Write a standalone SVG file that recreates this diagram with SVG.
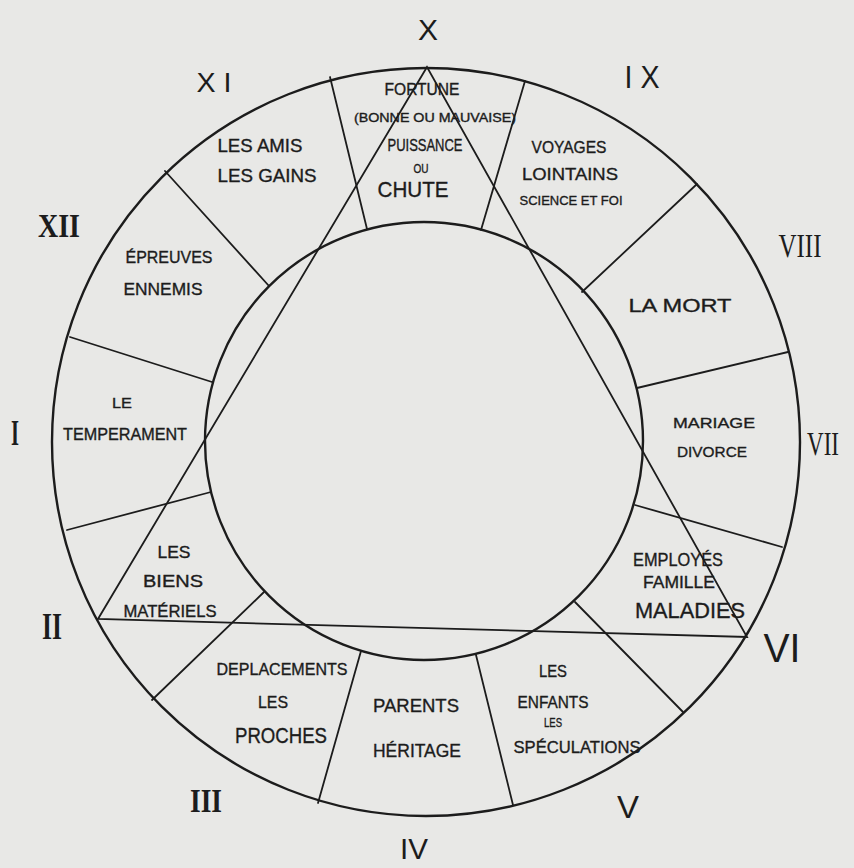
<svg xmlns="http://www.w3.org/2000/svg" width="854" height="868" viewBox="0 0 854 868">
<style>
.ln{stroke:#1c1c1c;stroke-width:1.8;fill:none;stroke-linecap:round}
.circ{stroke:#1c1c1c;stroke-width:2.4;fill:none}
.t{font-family:"Liberation Sans",Arial,sans-serif;fill:#1c1c1c;stroke:#1c1c1c;stroke-width:0.35;text-anchor:middle}
.rs{font-family:"Liberation Sans",Arial,sans-serif;fill:#1c1c1c;text-anchor:middle}
.rb{font-family:"Liberation Serif","Times New Roman",serif;font-weight:bold;fill:#1c1c1c;text-anchor:middle}
.rr{font-family:"Liberation Serif","Times New Roman",serif;fill:#1c1c1c;text-anchor:middle}
</style>
<rect x="0" y="0" width="854" height="868" fill="#e8e8e6"/>
<g id="circles">
<circle class="circ" cx="426" cy="442" r="374"/>
<circle class="circ" cx="424" cy="441" r="219"/>
</g>
<g id="connectors">
<line class="ln" x1="330" y1="77" x2="367" y2="229"/>
<line class="ln" x1="525" y1="81" x2="481" y2="230"/>
<line class="ln" x1="697" y1="184" x2="582" y2="292"/>
<line class="ln" x1="788" y1="352" x2="637" y2="388"/>
<line class="ln" x1="782" y1="547" x2="635" y2="505"/>
<line class="ln" x1="683" y1="712" x2="575" y2="602"/>
<line class="ln" x1="513" y1="805" x2="476" y2="655"/>
<line class="ln" x1="318" y1="803" x2="361" y2="651"/>
<line class="ln" x1="152" y1="700" x2="264" y2="592"/>
<line class="ln" x1="67" y1="530" x2="211" y2="492"/>
<line class="ln" x1="70" y1="337" x2="212" y2="382"/>
<line class="ln" x1="165" y1="171" x2="269" y2="286"/>
<polygon id="triangle" class="ln" points="427,67 98,619 747,637"/>
</g>
<g id="house-X">
<text class="t" x="422" y="95" font-size="16" textLength="75" lengthAdjust="spacingAndGlyphs">FORTUNE</text>
<text class="t" x="435" y="122" font-size="12" textLength="162" lengthAdjust="spacingAndGlyphs">(BONNE OU MAUVAISE)</text>
<text class="t" x="425" y="151" font-size="16" textLength="75" lengthAdjust="spacingAndGlyphs">PUISSANCE</text>
<text class="t" x="421" y="173" font-size="12" textLength="15" lengthAdjust="spacingAndGlyphs">OU</text>
<text class="t" x="413" y="197" font-size="22" textLength="71" lengthAdjust="spacingAndGlyphs">CHUTE</text>
</g>
<g id="house-XI">
<text class="t" x="260" y="152" font-size="18" textLength="85" lengthAdjust="spacingAndGlyphs">LES AMIS</text>
<text class="t" x="267" y="182" font-size="18" textLength="99" lengthAdjust="spacingAndGlyphs">LES GAINS</text>
</g>
<g id="house-XII">
<text class="t" x="169" y="263" font-size="17" textLength="87" lengthAdjust="spacingAndGlyphs">ÉPREUVES</text>
<text class="t" x="163" y="295" font-size="17" textLength="79" lengthAdjust="spacingAndGlyphs">ENNEMIS</text>
</g>
<g id="house-I">
<text class="t" x="122" y="408" font-size="15" textLength="20" lengthAdjust="spacingAndGlyphs">LE</text>
<text class="t" x="125" y="440" font-size="16" textLength="124" lengthAdjust="spacingAndGlyphs">TEMPERAMENT</text>
</g>
<g id="house-II">
<text class="t" x="174" y="558" font-size="17" textLength="33" lengthAdjust="spacingAndGlyphs">LES</text>
<text class="t" x="173" y="587" font-size="17" textLength="60" lengthAdjust="spacingAndGlyphs">BIENS</text>
<text class="t" x="170" y="617" font-size="17" textLength="93" lengthAdjust="spacingAndGlyphs">MATÉRIELS</text>
</g>
<g id="house-III">
<text class="t" x="282" y="675" font-size="17" textLength="131" lengthAdjust="spacingAndGlyphs">DEPLACEMENTS</text>
<text class="t" x="273" y="708" font-size="17" textLength="30" lengthAdjust="spacingAndGlyphs">LES</text>
<text class="t" x="281" y="743" font-size="22" textLength="92" lengthAdjust="spacingAndGlyphs">PROCHES</text>
</g>
<g id="house-IV">
<text class="t" x="416" y="712" font-size="18" textLength="86" lengthAdjust="spacingAndGlyphs">PARENTS</text>
<text class="t" x="417" y="757" font-size="18" textLength="88" lengthAdjust="spacingAndGlyphs">HÉRITAGE</text>
</g>
<g id="house-V">
<text class="t" x="553" y="677" font-size="17" textLength="28" lengthAdjust="spacingAndGlyphs">LES</text>
<text class="t" x="553" y="708" font-size="17" textLength="71" lengthAdjust="spacingAndGlyphs">ENFANTS</text>
<text class="t" x="553" y="727" font-size="12" textLength="18" lengthAdjust="spacingAndGlyphs">LES</text>
<text class="t" x="577" y="753" font-size="17" textLength="127" lengthAdjust="spacingAndGlyphs">SPÉCULATIONS</text>
</g>
<g id="house-VI">
<text class="t" x="678" y="566" font-size="18" textLength="90" lengthAdjust="spacingAndGlyphs">EMPLOYÉS</text>
<text class="t" x="679" y="588" font-size="17" textLength="72" lengthAdjust="spacingAndGlyphs">FAMILLE</text>
<text class="t" x="690" y="618" font-size="22" textLength="110" lengthAdjust="spacingAndGlyphs">MALADIES</text>
</g>
<g id="house-VII">
<text class="t" x="714" y="428" font-size="15" textLength="82" lengthAdjust="spacingAndGlyphs">MARIAGE</text>
<text class="t" x="712" y="457" font-size="15" textLength="70" lengthAdjust="spacingAndGlyphs">DIVORCE</text>
</g>
<g id="house-VIII">
<text class="t" x="680" y="312" font-size="19" textLength="103" lengthAdjust="spacingAndGlyphs">LA MORT</text>
</g>
<g id="house-IX">
<text class="t" x="569" y="153" font-size="17" textLength="75" lengthAdjust="spacingAndGlyphs">VOYAGES</text>
<text class="t" x="570" y="180" font-size="17" textLength="96" lengthAdjust="spacingAndGlyphs">LOINTAINS</text>
<text class="t" x="571" y="205" font-size="13" textLength="103" lengthAdjust="spacingAndGlyphs">SCIENCE ET FOI</text>
</g>
<g id="numerals">
<text class="rs" x="428" y="40" font-size="30" textLength="20" lengthAdjust="spacingAndGlyphs">X</text>
<text class="rs" x="214" y="92" font-size="28" textLength="35" lengthAdjust="spacingAndGlyphs">X I</text>
<text class="rs" x="642" y="88" font-size="31" textLength="35" lengthAdjust="spacingAndGlyphs">I X</text>
<text class="rb" x="59" y="237" font-size="33" textLength="42" lengthAdjust="spacingAndGlyphs">XII</text>
<text class="rr" x="800" y="257" font-size="34" textLength="43" lengthAdjust="spacingAndGlyphs">VIII</text>
<text class="rr" x="823" y="455" font-size="34" textLength="32" lengthAdjust="spacingAndGlyphs">VII</text>
<text class="rb" x="15" y="445" font-size="36" textLength="8" lengthAdjust="spacingAndGlyphs">I</text>
<text class="rb" x="52" y="639" font-size="38" textLength="20" lengthAdjust="spacingAndGlyphs">II</text>
<text class="rs" x="782" y="662" font-size="40" textLength="37" lengthAdjust="spacingAndGlyphs">VI</text>
<text class="rs" x="628" y="818" font-size="32" textLength="22" lengthAdjust="spacingAndGlyphs">V</text>
<text class="rs" x="414" y="859" font-size="30" textLength="28" lengthAdjust="spacingAndGlyphs">IV</text>
<text class="rb" x="206" y="812" font-size="34" textLength="32" lengthAdjust="spacingAndGlyphs">III</text>
</g>
</svg>
